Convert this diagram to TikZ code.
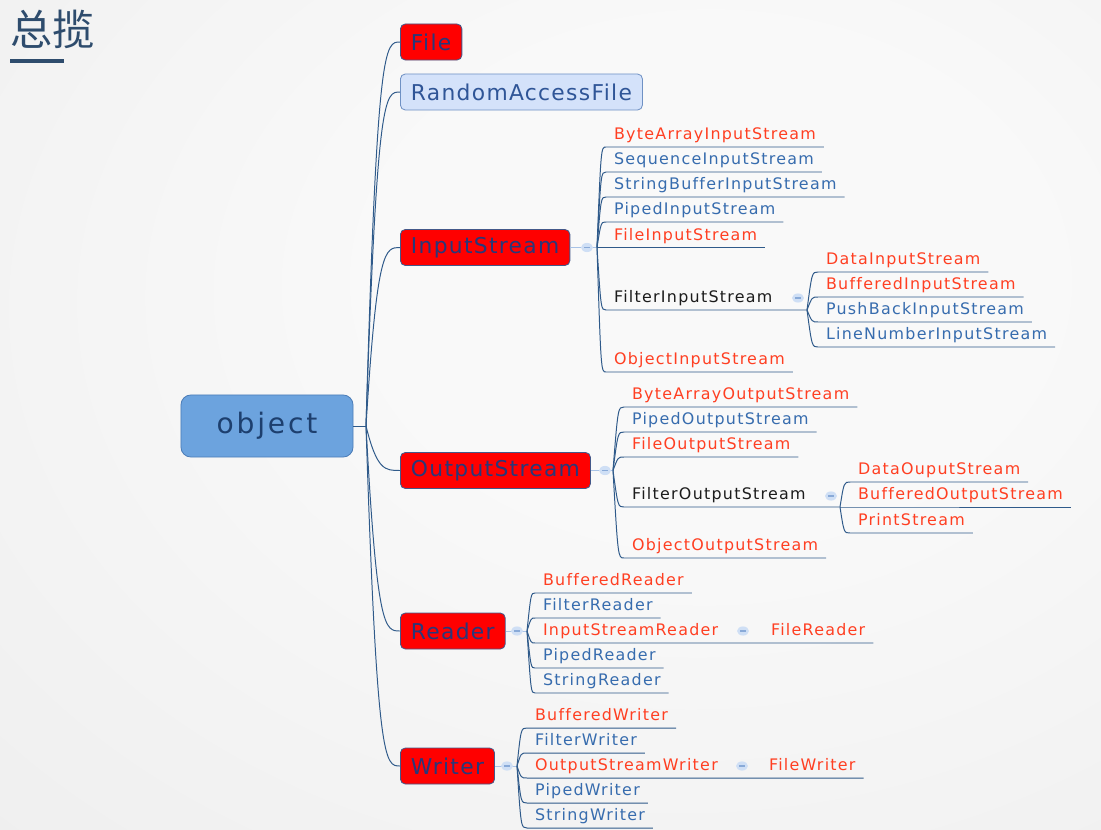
\documentclass[tikz,border=0pt]{standalone}
\usepackage{fontspec}
\usepackage{xcolor}
\usepackage{tikz}
\usetikzlibrary{shapes.geometric}
\newfontfamily\cjk{Noto Sans CJK SC}
\newfontfamily\leaffont[LetterSpace=8,Ligatures=NoCommon]{DejaVu Sans}
\newfontfamily\topicfont[LetterSpace=6]{DejaVu Sans}
\newfontfamily\rootfont[LetterSpace=10]{DejaVu Sans}
\definecolor{MMTitle}{HTML}{2E4C6D}
\definecolor{MMLine}{HTML}{2F5A8A}
\definecolor{MMStub}{HTML}{A9C3E6}
\definecolor{MMTogFill}{HTML}{CFDFF5}
\definecolor{MMTogMinus}{HTML}{89AAD8}
\definecolor{MMRed}{HTML}{FF0000}
\definecolor{MMRedEdge}{HTML}{44598A}
\definecolor{MMNavy}{HTML}{28387A}
\definecolor{MMPale}{HTML}{D4E2FA}
\definecolor{MMPaleEdge}{HTML}{6F91C4}
\definecolor{MMPaleText}{HTML}{2F5597}
\definecolor{MMRoot}{HTML}{6CA3DE}
\definecolor{MMRootEdge}{HTML}{4C7DB8}
\definecolor{MMRootText}{HTML}{1D3F6E}
\definecolor{MMLeafRed}{HTML}{FF3F22}
\definecolor{MMLeafBlue}{HTML}{376CAE}
\definecolor{MMLeafDark}{HTML}{1C1C1C}
\definecolor{MMBgIn}{HTML}{F9F9F9}
\definecolor{MMBgOut}{HTML}{E0E0E0}
\pgfdeclareradialshading{mmglow}{\pgfpoint{9bp}{10bp}}{color(0bp)=(MMBgIn); color(15bp)=(MMBgIn); color(85bp)=(MMBgOut)}
\newcommand{\togminus}{\rule{4pt}{0.8pt}}
\tikzset{
  topic/.style={anchor=west, rounded corners=3.5pt, line width=0.6pt, inner xsep=7.5pt, inner ysep=0pt, minimum height=0.9cm, font=\topicfont\fontsize{15.5}{17}\selectfont},
  redtopic/.style={topic, draw=MMRedEdge, fill=MMRed, text=MMNavy},
  paletopic/.style={topic, draw=MMPaleEdge, fill=MMPale, text=MMPaleText},
  roottopic/.style={rounded corners=7pt, line width=0.6pt, draw=MMRootEdge, fill=MMRoot, text=MMRootText, minimum width=4.3cm, minimum height=1.55cm, font=\rootfont\fontsize{20}{22}\selectfont},
  leaf/.style={anchor=south west, inner xsep=5.5pt, inner ysep=2.5pt, text height=8.6pt, text depth=2.4pt, font=\leaffont\fontsize{11.3}{13}\selectfont},
  redleaf/.style={leaf, text=MMLeafRed},
  blueleaf/.style={leaf, text=MMLeafBlue},
  darkleaf/.style={leaf, text=MMLeafDark},
  conn/.style={draw=MMLine, line width=0.7pt},
  stub/.style={draw=MMStub, line width=0.6pt},
  tog/.style={ellipse, fill=MMTogFill, inner sep=0pt, minimum width=8.5pt, minimum height=6.5pt, text=MMTogMinus}
}
\begin{document}
\begin{tikzpicture}[x=0.025cm,y=-0.025cm]
\useasboundingbox (0,0) rectangle (1101,830);
\shade[shading=mmglow] (0,0) rectangle (1101,830);
\node[anchor=west,inner sep=0pt,text=MMTitle,font=\cjk\fontsize{30}{32}\selectfont] (ttl) at (10,29) {总揽};
\fill[MMTitle] (10,59) rectangle (64,62.5);
\node[roottopic] (obj) at (267,426) {object};
\coordinate (jroot) at (366,426);
\node[redtopic] (file) at (400,42) {File};
\node[paletopic] (raf) at (400,92) {RandomAccessFile};
\node[redtopic] (ins) at (400,247.5) {InputStream};
\node[redtopic] (outs) at (400,470.5) {OutputStream};
\node[redtopic] (rdr) at (400,631) {Reader};
\node[redtopic] (wrt) at (400,766) {Writer};
\draw[conn] (obj.east) -- (jroot);
\draw[conn] (jroot) .. controls (377,42) and (385,42) .. (file.west);
\draw[conn] (jroot) .. controls (377,92) and (385,92) .. (raf.west);
\draw[conn] (jroot) .. controls (377,247.5) and (385,247.5) .. (ins.west);
\draw[conn] (jroot) .. controls (377,470.5) and (385,470.5) .. (outs.west);
\draw[conn] (jroot) .. controls (377,631) and (385,631) .. (rdr.west);
\draw[conn] (jroot) .. controls (377,766) and (385,766) .. (wrt.west);
% InputStream
\coordinate (jins) at (597,247.5);
\node[redleaf] (bais) at (606,147) {ByteArrayInputStream};
\node[blueleaf] (sis) at (606,172) {SequenceInputStream};
\node[blueleaf] (sbis) at (606,197) {StringBufferInputStream};
\node[blueleaf] (pis) at (606,222) {PipedInputStream};
\node[redleaf] (fis) at (606,247.5) {FileInputStream};
\node[darkleaf] (filis) at (606,310) {FilterInputStream};
\node[redleaf] (ois) at (606,372) {ObjectInputStream};
\coordinate (jfis) at (807,310);
\draw[stub] (ins.east) -- (jins);
\node[tog] (tins) at (587,247.5) {\togminus};
\draw[conn] (jins) .. controls (601,147) .. (bais.south west) -- (bais.south east);
\draw[conn] (jins) .. controls (601,172) .. (sis.south west) -- (sis.south east);
\draw[conn] (jins) .. controls (601,197) .. (sbis.south west) -- (sbis.south east);
\draw[conn] (jins) .. controls (601,222) .. (pis.south west) -- (pis.south east);
\draw[conn] (jins) -- (fis.south west) -- (fis.south east);
\draw[conn] (jins) .. controls (601,310) .. (filis.south west) -- (jfis);
\draw[conn] (jins) .. controls (601,372) .. (ois.south west) -- (ois.south east);
\node[tog] (tfis) at (798,298) {\togminus};
\node[redleaf] (dis) at (818,272) {DataInputStream};
\node[redleaf] (bis) at (818,297) {BufferedInputStream};
\node[blueleaf] (pbis) at (818,322) {PushBackInputStream};
\node[blueleaf] (lnis) at (818,347) {LineNumberInputStream};
\draw[conn] (jfis) .. controls (812,272) .. (dis.south west) -- (dis.south east);
\draw[conn] (jfis) .. controls (812,297) .. (bis.south west) -- (bis.south east);
\draw[conn] (jfis) .. controls (812,322) .. (pbis.south west) -- (pbis.south east);
\draw[conn] (jfis) .. controls (812,347) .. (lnis.south west) -- (lnis.south east);
% OutputStream
\coordinate (jouts) at (613,470.5);
\node[redleaf] (baos) at (624,407) {ByteArrayOutputStream};
\node[blueleaf] (pos) at (624,432) {PipedOutputStream};
\node[redleaf] (fos) at (624,457) {FileOutputStream};
\node[darkleaf] (filos) at (624,507) {FilterOutputStream};
\node[redleaf] (oos) at (624,558) {ObjectOutputStream};
\coordinate (jfos) at (840,507);
\draw[stub] (outs.east) -- (jouts);
\node[tog] (touts) at (605,470.5) {\togminus};
\draw[conn] (jouts) .. controls (618,407) .. (baos.south west) -- (baos.south east);
\draw[conn] (jouts) .. controls (618,432) .. (pos.south west) -- (pos.south east);
\draw[conn] (jouts) .. controls (618,457) .. (fos.south west) -- (fos.south east);
\draw[conn] (jouts) .. controls (618,507) .. (filos.south west) -- (jfos);
\draw[conn] (jouts) .. controls (618,558) .. (oos.south west) -- (oos.south east);
\node[tog] (tfos) at (831,496) {\togminus};
\node[redleaf] (dos) at (850,482) {DataOuputStream};
\node[redleaf] (bos) at (850,507) {BufferedOutputStream};
\node[redleaf] (ps) at (850,533) {PrintStream};
\draw[conn] (jfos) .. controls (844,482) .. (dos.south west) -- (dos.south east);
\draw[conn] (jfos) -- (bos.south west) -- (bos.south east);
\draw[conn] (jfos) .. controls (844,533) .. (ps.south west) -- (ps.south east);
% Reader
\coordinate (jrdr) at (527,631);
\node[redleaf] (br) at (535,593) {BufferedReader};
\node[blueleaf] (frd) at (535,618) {FilterReader};
\node[redleaf] (isr) at (535,643) {InputStreamReader};
\node[blueleaf] (prd) at (535,668) {PipedReader};
\node[blueleaf] (srd) at (535,693) {StringReader};
\node[redleaf] (filerd) at (763,643) {FileReader};
\draw[stub] (rdr.east) -- (jrdr);
\node[tog] (trdr) at (517,631) {\togminus};
\draw[conn] (jrdr) .. controls (531,593) .. (br.south west) -- (br.south east);
\draw[conn] (jrdr) .. controls (531,618) .. (frd.south west) -- (frd.south east);
\draw[conn] (jrdr) .. controls (531,643) .. (isr.south west) -- (filerd.south west) -- (filerd.south east);
\draw[conn] (jrdr) .. controls (531,668) .. (prd.south west) -- (prd.south east);
\draw[conn] (jrdr) .. controls (531,693) .. (srd.south west) -- (srd.south east);
\node[tog] (tisr) at (743,631) {\togminus};
% Writer
\coordinate (jwrt) at (517,766);
\node[redleaf] (bw) at (527,728) {BufferedWriter};
\node[blueleaf] (fw) at (527,753) {FilterWriter};
\node[redleaf] (osw) at (527,778) {OutputStreamWriter};
\node[blueleaf] (pw) at (527,803) {PipedWriter};
\node[blueleaf] (sw) at (527,828) {StringWriter};
\node[redleaf] (filewr) at (761,778) {FileWriter};
\draw[stub] (wrt.east) -- (jwrt);
\node[tog] (twrt) at (507,766) {\togminus};
\draw[conn] (jwrt) .. controls (521,728) .. (bw.south west) -- (bw.south east);
\draw[conn] (jwrt) .. controls (521,753) .. (fw.south west) -- (fw.south east);
\draw[conn] (jwrt) .. controls (521,778) .. (osw.south west) -- (filewr.south west) -- (filewr.south east);
\draw[conn] (jwrt) .. controls (521,803) .. (pw.south west) -- (pw.south east);
\draw[conn] (jwrt) .. controls (521,828) .. (sw.south west) -- (sw.south east);
\node[tog] (tosw) at (742,766) {\togminus};
\end{tikzpicture}
\end{document}
